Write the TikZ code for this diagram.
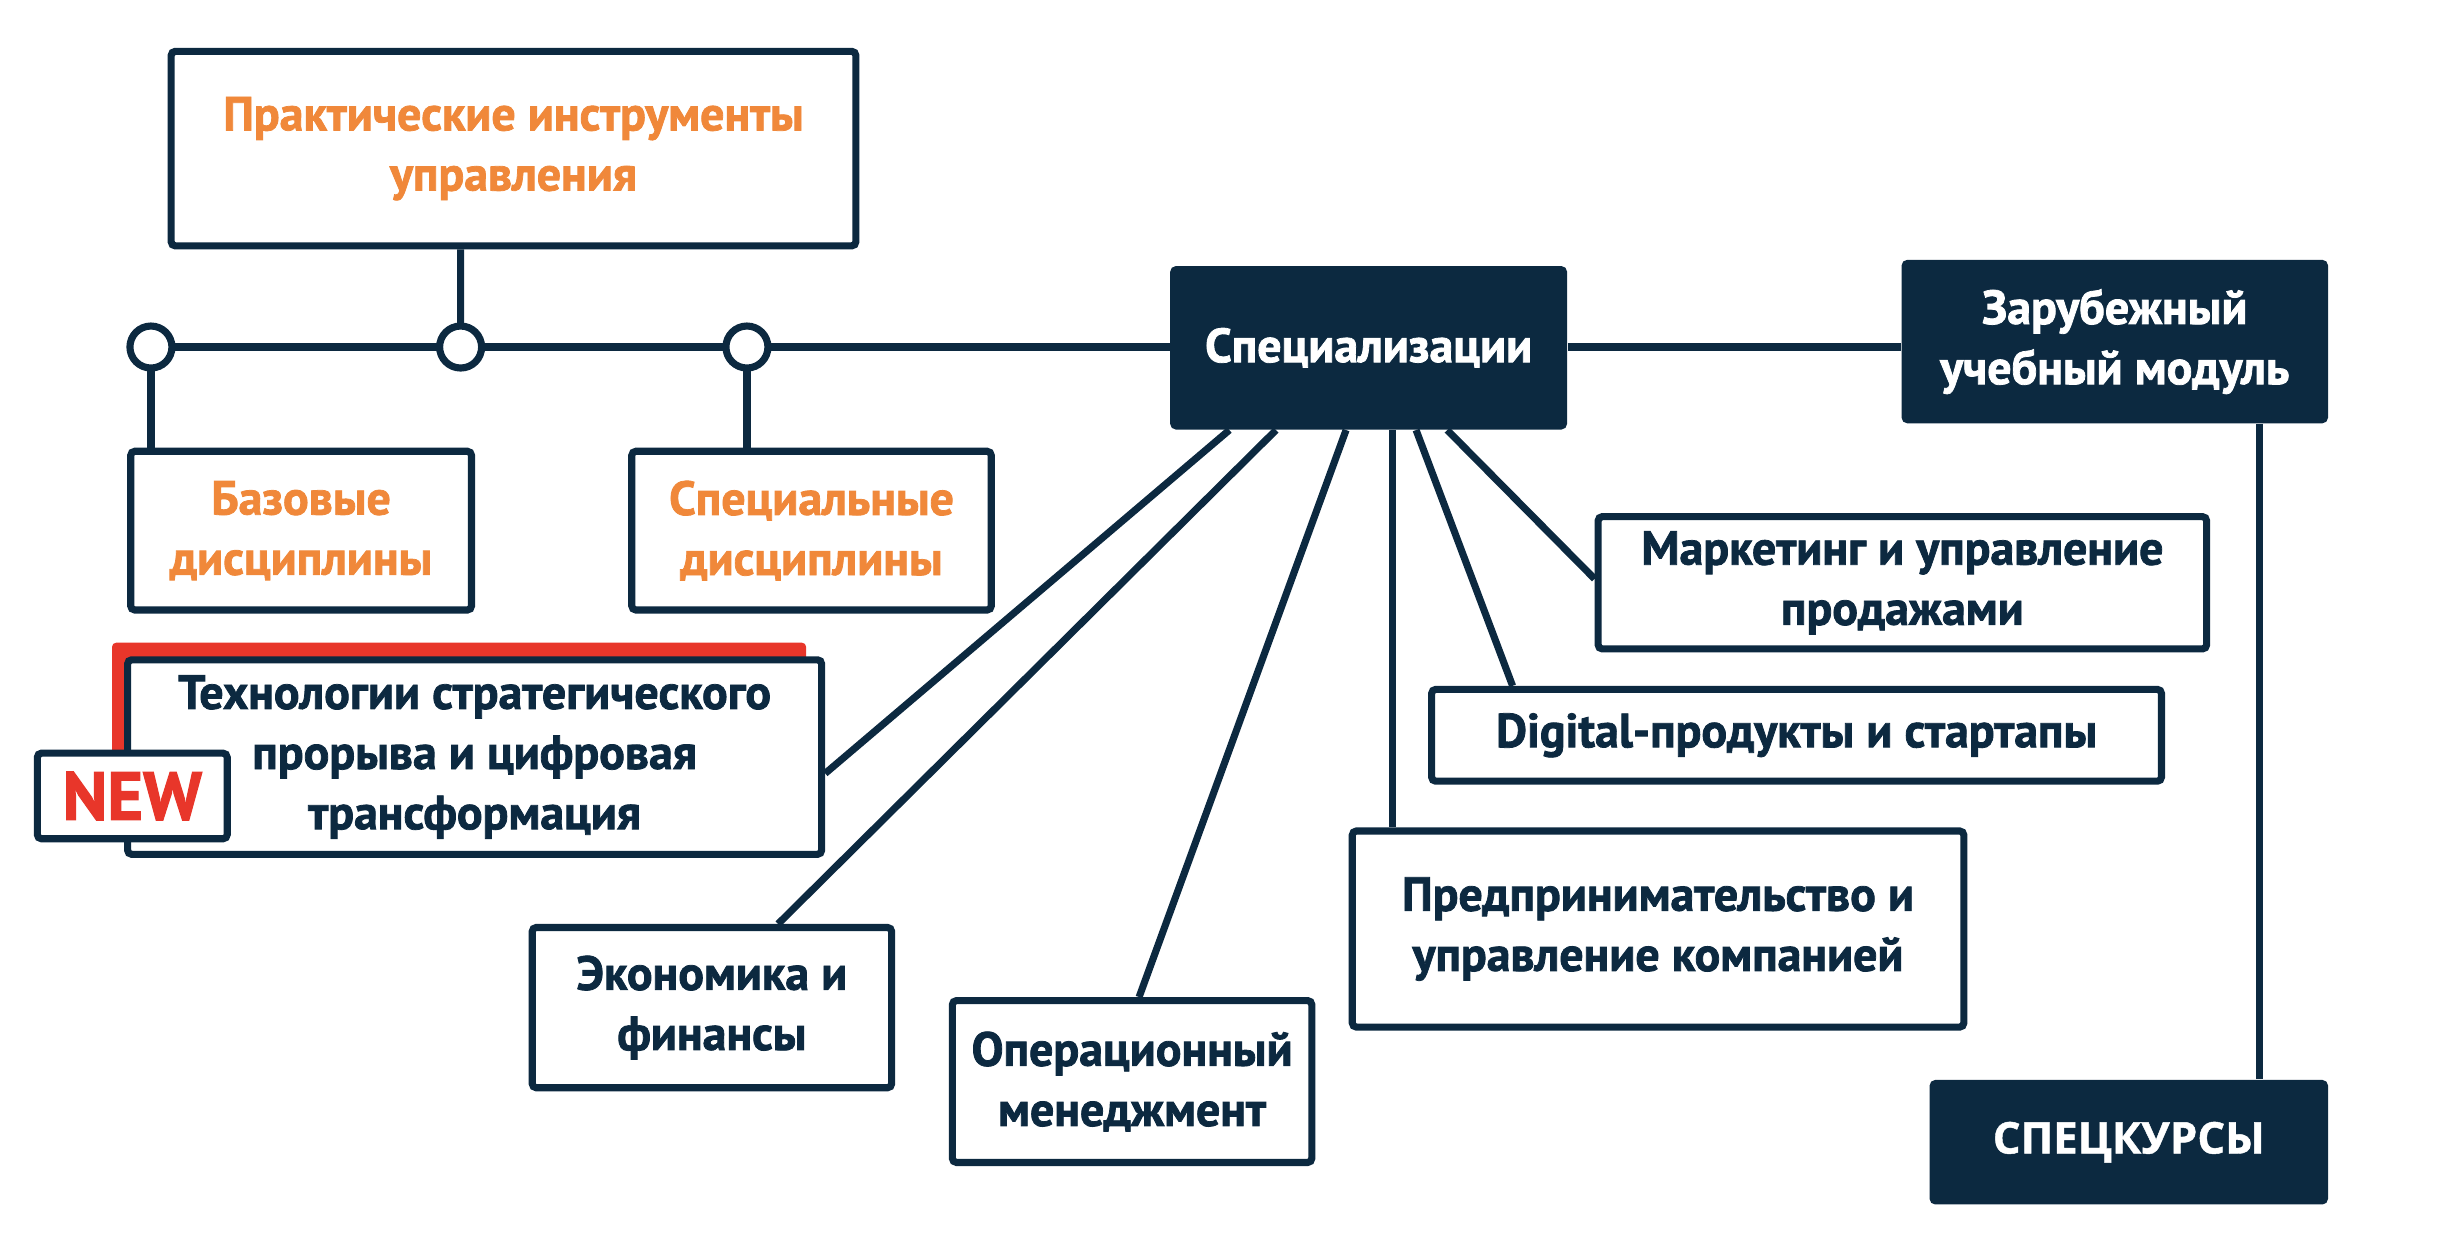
\documentclass[tikz,border=0pt]{standalone}
\usepackage{fontspec}
\setmainfont{PT Sans}[BoldFeatures={FakeBold=1.6}]
\newfontfamily\capsfont{Open Sans}[BoldFeatures={FakeBold=1}]
\definecolor{navy}{HTML}{0C2940}
\definecolor{brandorange}{HTML}{F0883A}
\definecolor{newred}{HTML}{E8362A}
\tikzset{
    box/.style={draw=navy,fill=white,line width=2.6pt,rounded corners=1.5pt,align=center,inner sep=0pt,text=navy,font=\bfseries\fontsize{17.5}{22}\selectfont},
    orangebox/.style={box,text=brandorange},
    darkbox/.style={fill=navy,rounded corners=2pt,align=center,inner sep=0pt,text=white,font=\bfseries\fontsize{17.5}{22}\selectfont},
    link/.style={draw=navy,line width=2.6pt},
    knot/.style={circle,draw=navy,fill=white,line width=2.6pt,minimum size=0.54cm,inner sep=0pt}
}
\begin{document}
\begin{tikzpicture}
    \useasboundingbox (0,0) rectangle (31.36,-15.84);

    % upper branch
    \node[orangebox,minimum width=8.8cm,minimum height=2.5cm] (practice) at (6.60,-1.91) {Практические инструменты\\управления};
    \node[orangebox,minimum width=4.38cm,minimum height=2.04cm] (basic) at (3.87,-6.82) {Базовые\\дисциплины};
    \node[orangebox,minimum width=4.62cm,minimum height=2.04cm] (special) at (10.43,-6.82) {Специальные\\дисциплины};

    \node[darkbox,minimum width=5.1cm,minimum height=2.1cm] (spec) at (17.59,-4.47) {Специализации};
    \node[darkbox,minimum width=5.48cm,minimum height=2.1cm] (abroad) at (27.18,-4.39) {Зарубежный\\учебный модуль};
    \node[darkbox,minimum width=5.12cm,minimum height=1.6cm,font=\capsfont\bfseries\fontsize{16}{22}\selectfont] (courses) at (27.36,-14.68) {СПЕЦКУРСЫ};

    \coordinate (c1) at (1.94,-4.46);
    \coordinate (c2) at (5.92,-4.46);
    \coordinate (c3) at (9.60,-4.46);

    \draw[link,line width=3pt] (c1) -- (c1 -| spec.west);
    \draw[link,line width=3pt] (c1 -| spec.east) -- (c1 -| abroad.west);
    \draw[link] ([xshift=-0.68cm]practice.south) -- (c2);
    \draw[link] (c1) -- (c1 |- basic.north);
    \draw[link] (c3) -- (c3 |- special.north);
    \draw[link] ([xshift=1.86cm]abroad.south) -- ([xshift=1.86cm]abroad.south |- courses.north);

    \node[knot] (k1) at (c1) {};
    \node[knot] (k2) at (c2) {};
    \node[knot] (k3) at (c3) {};

    % specializations
    \fill[newred,rounded corners=1.5pt] (1.44,-8.26) rectangle (10.36,-10.76);
    \node[box,minimum width=8.92cm,minimum height=2.5cm] (tech) at (6.10,-9.73) {Технологии стратегического\\прорыва и цифровая\\трансформация};
    \node[box,minimum width=2.44cm,minimum height=1.1cm,text=newred,font=\bfseries\fontsize{25}{25}\selectfont] (new) at (1.70,-10.23) {NEW};

    \node[box,minimum width=4.62cm,minimum height=2.06cm] (econ) at (9.15,-12.95) {Экономика и\\финансы};
    \node[box,minimum width=4.62cm,minimum height=2.08cm] (oper) at (14.55,-13.90) {Операционный\\менеджмент};
    \node[box,minimum width=7.86cm,minimum height=2.52cm] (entre) at (21.31,-11.94) {Предпринимательство и\\управление компанией};
    \node[box,minimum width=9.38cm,minimum height=1.18cm] (digital) at (23.09,-9.45) {Digital-продукты и стартапы};
    \node[box,minimum width=7.82cm,minimum height=1.7cm] (market) at (24.45,-7.49) {Маркетинг и управление\\продажами};

    \draw[link] ([xshift=-1.79cm]spec.south) -- ([yshift=-0.21cm]tech.east);
    \draw[link] ([xshift=-1.19cm]spec.south) -- ([xshift=0.85cm]econ.north);
    \draw[link] ([xshift=-0.29cm]spec.south) -- ([xshift=0.09cm]oper.north);
    \draw[link] ([xshift=0.31cm]spec.south) -- ([xshift=0.31cm]spec.south |- entre.north);
    \draw[link] ([xshift=0.61cm]spec.south) -- ([xshift=-3.65cm]digital.north);
    \draw[link] ([xshift=1.01cm]spec.south) -- ([yshift=0.05cm]market.west);
\end{tikzpicture}
\end{document}
